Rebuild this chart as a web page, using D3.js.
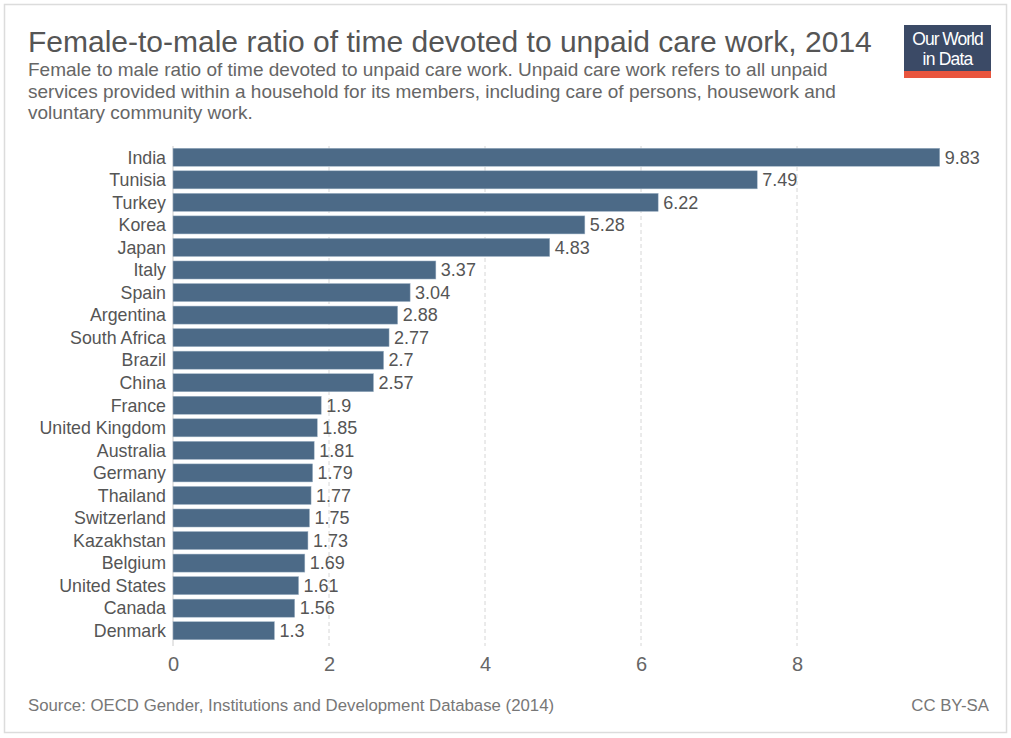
<!DOCTYPE html>
<html>
<head>
<meta charset="utf-8">
<script src="https://cdn.jsdelivr.net/npm/d3@7"></script>
<style>
  body { margin: 0; background: #fff; font-family: "Liberation Sans", Arial, sans-serif; }
  svg text { font-family: "Liberation Sans", Arial, sans-serif; }
</style>
</head>
<body>
<div id="chart"></div>
<script>
// Data
let countries = ['India', 'Tunisia', 'Turkey', 'Korea', 'Japan', 'Italy', 'Spain', 'Argentina',
  'South Africa', 'Brazil', 'China', 'France', 'United Kingdom', 'Australia', 'Germany',
  'Thailand', 'Switzerland', 'Kazakhstan', 'Belgium', 'United States', 'Canada', 'Denmark'];
let ratios = [9.83, 7.49, 6.22, 5.28, 4.83, 3.37, 3.04, 2.88, 2.77, 2.7, 2.57, 1.9, 1.85,
  1.81, 1.79, 1.77, 1.75, 1.73, 1.69, 1.61, 1.56, 1.3];
let xTicks = [0, 2, 4, 6, 8];

let svgWidth = 1011;
let svgHeight = 738;

let svg = d3.select('#chart').append('svg')
  .attr('width', svgWidth)
  .attr('height', svgHeight);

// Frame
svg.append('rect')
  .attr('x', 4.5).attr('y', 4.5)
  .attr('width', svgWidth - 9).attr('height', svgHeight - 10)
  .attr('fill', '#fff')
  .attr('stroke', '#dcdcdc')
  .attr('stroke-width', 1.5);

// Title + subtitle
svg.append('text')
  .attr('x', 28).attr('y', 52)
  .attr('font-size', 30)
  .attr('fill', '#555')
  .text('Female-to-male ratio of time devoted to unpaid care work, 2014');

let subLines = [
  'Female to male ratio of time devoted to unpaid care work. Unpaid care work refers to all unpaid',
  'services provided within a household for its members, including care of persons, housework and',
  'voluntary community work.'
];
svg.append('g').selectAll('text')
  .data(subLines)
  .enter()
  .append('text')
  .attr('x', 28)
  .attr('y', (d, i) => 76 + i * 21.5)
  .attr('font-size', 19)
  .attr('fill', '#666')
  .text(d => d);

// Logo
let logo = svg.append('g').attr('transform', 'translate(904, 25)');
logo.append('rect').attr('width', 87).attr('height', 53).attr('fill', '#3b4a66');
logo.append('rect').attr('y', 46).attr('width', 87).attr('height', 7).attr('fill', '#e8553e');
logo.append('text').attr('x', 43.5).attr('y', 20).attr('text-anchor', 'middle')
  .attr('font-size', 17.5).attr('fill', '#fff').attr('letter-spacing', -1).text('Our World');
logo.append('text').attr('x', 43.5).attr('y', 40).attr('text-anchor', 'middle')
  .attr('font-size', 17.5).attr('fill', '#fff').attr('letter-spacing', -0.8).text('in Data');

// Chart area
let margin = { left: 173, top: 146 };
let plotBottom = 642;

let x = d3.scaleLinear()
  .domain([0, 8])
  .range([margin.left, 797]);

let y = d3.scaleBand()
  .domain(countries)
  .range([margin.top, plotBottom])
  .paddingInner(0.2)
  .paddingOuter(0.1);

// Grid lines
svg.append('g').selectAll('line')
  .data(xTicks.slice(1))
  .enter()
  .append('line')
  .attr('x1', d => x(d)).attr('x2', d => x(d))
  .attr('y1', margin.top).attr('y2', plotBottom + 4)
  .attr('stroke', '#d6d6d6')
  .attr('stroke-dasharray', '4,3');

// Zero line
svg.append('line')
  .attr('x1', x(0)).attr('x2', x(0))
  .attr('y1', margin.top).attr('y2', plotBottom + 4)
  .attr('stroke', '#ccc');

// Bars
svg.append('g').selectAll('rect')
  .data(countries)
  .enter()
  .append('rect')
  .attr('x', x(0))
  .attr('y', d => y(d))
  .attr('width', (d, i) => x(ratios[i]) - x(0))
  .attr('height', y.bandwidth())
  .attr('fill', '#4c6a87')
  .attr('stroke', '#9fb3c6')
  .attr('stroke-width', 0.5);

// Country labels
svg.append('g').selectAll('text')
  .data(countries)
  .enter()
  .append('text')
  .attr('x', x(0) - 7)
  .attr('y', d => y(d) + y.bandwidth() / 2)
  .attr('dy', '0.35em')
  .attr('text-anchor', 'end')
  .attr('font-size', 17.8)
  .attr('fill', '#555')
  .text(d => d);

// Value labels
svg.append('g').selectAll('text')
  .data(countries)
  .enter()
  .append('text')
  .attr('x', (d, i) => x(ratios[i]) + 5)
  .attr('y', d => y(d) + y.bandwidth() / 2)
  .attr('dy', '0.35em')
  .attr('font-size', 18)
  .attr('fill', '#555')
  .text((d, i) => ratios[i]);

// X axis
let xAxis = svg.append('g')
  .attr('transform', `translate(0, ${plotBottom + 12})`)
  .call(d3.axisBottom(x).tickValues(xTicks).tickSize(0).tickPadding(3));
xAxis.select('.domain').remove();
xAxis.selectAll('text')
  .attr('font-size', 20)
  .attr('fill', '#666')
  .attr('font-family', '"Liberation Sans", Arial, sans-serif');

// Footer
svg.append('text')
  .attr('x', 28).attr('y', 711)
  .attr('font-size', 16.8)
  .attr('fill', '#777')
  .text('Source: OECD Gender, Institutions and Development Database (2014)');
svg.append('text')
  .attr('x', 989).attr('y', 711)
  .attr('text-anchor', 'end')
  .attr('font-size', 16.8)
  .attr('fill', '#777')
  .text('CC BY-SA');
</script>
</body>
</html>
